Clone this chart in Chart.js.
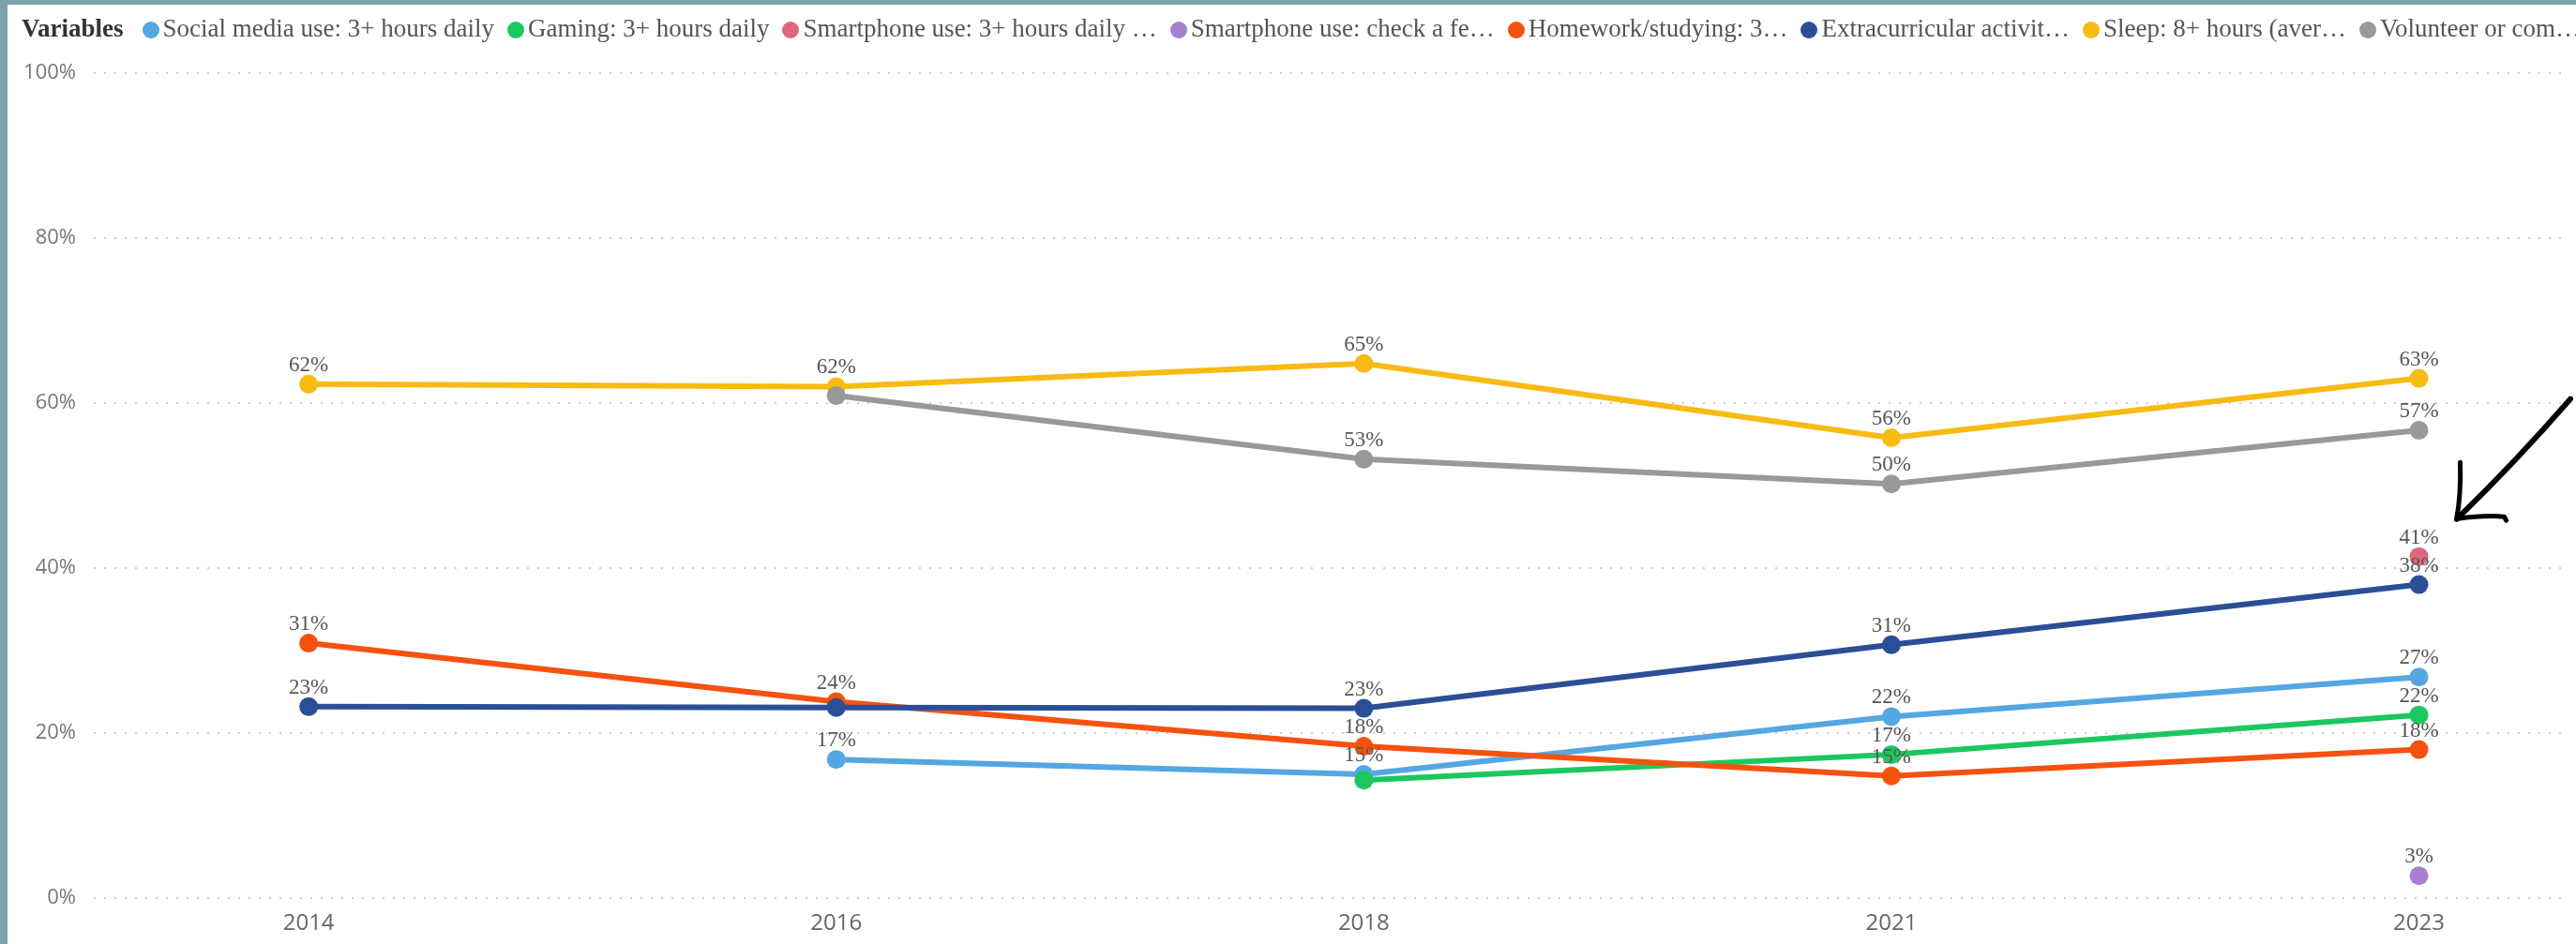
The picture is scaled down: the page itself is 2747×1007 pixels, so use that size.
<!DOCTYPE html>
<html>
<head>
<meta charset="utf-8">
<title>Teen habits over time</title>
<script src="https://cdn.jsdelivr.net/npm/chart.js@4.4.1/dist/chart.umd.min.js"></script>
<style>
  html, body { margin: 0; padding: 0; }
  body { width: 2747px; height: 1007px; background: #7aa3ac; overflow: hidden; position: relative; }
  #panel { position: absolute; left: 8px; top: 5px; width: 2739px; height: 1002px; background: #fff; overflow: hidden; }
  #legend { position: absolute; left: 15px; top: 5px; height: 40px; line-height: 40px; white-space: nowrap;
            font-family: 'Liberation Serif', 'Times New Roman', serif; font-size: 27px; color: #555; z-index: 2; }
  #legend b { color: #333; margin-right: 20px; }
  #legend .item { margin-right: 14px; }
  #legend .dot { display: inline-block; width: 18px; height: 18px; border-radius: 50%; margin-right: 4px; vertical-align: -2px; }
  #wrap { position: absolute; left: 0; top: 0; width: 2739px; height: 1002px; }
</style>
</head>
<body>
<div id="panel">
  <div id="legend"></div>
  <div id="wrap"><canvas id="trendChart"></canvas></div>
</div>
<script>
const years = ['2014', '2016', '2018', '2021', '2023'];

const seriesNames = [
  'Social media use: 3+ hours daily',
  'Gaming: 3+ hours daily',
  'Smartphone use: 3+ hours daily \u2026',
  'Smartphone use: check a fe\u2026',
  'Homework/studying: 3\u2026',
  'Extracurricular activit\u2026',
  'Sleep: 8+ hours (aver\u2026',
  'Volunteer or com\u2026'
];

// percent of students, one value per survey year (null = not asked that year)
const socialMedia     = [null, 16.8, 15.0, 22.0, 26.8];
const gaming          = [null, null, 14.3, 17.4, 22.2];
const smartphoneHours = [null, null, null, null, 41.4];
const smartphoneCheck = [null, null, null, null, 2.7];
const homework        = [30.9, 23.8, 18.4, 14.8, 18.0];
const extracurricular = [23.2, 23.1, 23.0, 30.7, 38.0];
const sleep           = [62.3, 62.0, 64.8, 55.8, 63.0];
const volunteer       = [null, 60.9, 53.2, 50.2, 56.7];

const yTicks = [0, 20, 40, 60, 80, 100];

const seriesValues = [socialMedia, gaming, smartphoneHours, smartphoneCheck,
                      homework, extracurricular, sleep, volunteer];
const seriesColors = ['#55a7e2', '#1cc75f', '#e0677b', '#a97fd2',
                      '#f5520f', '#2b4f96', '#f7bb14', '#999999'];

const datasets = seriesValues.map((vals, i) => ({
  label: seriesNames[i],
  data: vals.map((v, j) => ({x: j, y: v})).filter(p => p.y !== null),
  borderColor: seriesColors[i],
  backgroundColor: seriesColors[i],
  pointBackgroundColor: seriesColors[i],
  pointBorderWidth: 0,
  pointRadius: 10,
  borderWidth: 6,
  tension: 0,
  order: seriesValues.length - i
}));

// value labels above points, skipping ones that would sit on top of a higher label
const pointLabels = {
  id: 'pointLabels',
  afterDatasetsDraw(chart) {
    const ctx = chart.ctx;
    const byYear = years.map(() => []);
    chart.data.datasets.forEach((ds, i) => {
      const meta = chart.getDatasetMeta(i);
      meta.data.forEach((pt, k) => {
        const raw = ds.data[k];
        byYear[raw.x].push({v: raw.y, x: pt.x, y: pt.y});
      });
    });
    ctx.save();
    ctx.font = '23px "Liberation Serif"';
    ctx.fillStyle = '#575757';
    ctx.textAlign = 'center';
    ctx.textBaseline = 'middle';
    byYear.forEach(list => {
      list.sort((a, b) => b.v - a.v);
      const placed = [];
      list.forEach(p => {
        const ty = p.y - 20;
        if (placed.some(q => Math.abs(q - ty) < 18)) return;
        placed.push(ty);
        ctx.fillText(Math.round(p.v) + '%', p.x, ty);
      });
    });
    ctx.restore();
  }
};

// hand drawn arrow pointing at the 2023 smartphone point
const arrow = {
  id: 'arrow',
  afterDraw(chart) {
    const {ctx, chartArea, scales: {x, y}} = chart;
    const tipX = x.getPixelForValue(4) + 41;
    const tipY = y.getPixelForValue(46);
    const tailX = chartArea.right + 4;
    const tailY = y.getPixelForValue(60.5);
    ctx.save();
    ctx.strokeStyle = '#000';
    ctx.lineCap = 'round';
    ctx.lineJoin = 'round';
    ctx.lineWidth = 6;
    ctx.beginPath();
    ctx.moveTo(tailX, tailY);
    ctx.quadraticCurveTo((tailX + tipX) / 2 + 3, (tailY + tipY) / 2 + 2, tipX, tipY);
    ctx.stroke();
    ctx.lineWidth = 5;
    ctx.beginPath();
    ctx.moveTo(tipX + 3, tipY - 60);
    ctx.quadraticCurveTo(tipX + 4, tipY - 25, tipX - 1, tipY + 1);
    ctx.stroke();
    ctx.beginPath();
    ctx.moveTo(tipX, tipY);
    ctx.quadraticCurveTo(tipX + 30, tipY - 4, tipX + 50, tipY - 2);
    ctx.lineTo(tipX + 52, tipY + 2);
    ctx.stroke();
    ctx.restore();
  }
};

const chart = new Chart(document.getElementById('trendChart').getContext('2d'), {
  type: 'line',
  data: {datasets: datasets},
  options: {
    responsive: true,
    maintainAspectRatio: false,
    animation: false,
    events: [],
    layout: {padding: {top: 73, left: 0, right: 0, bottom: 0}},
    plugins: {
      legend: {display: false},
      tooltip: {enabled: false}
    },
    scales: {
      x: {
        type: 'linear',
        min: -0.4073,
        max: 4.2799,
        afterBuildTicks(scale) {
          scale.ticks = years.map((_, i) => ({value: i}));
        },
        afterFit(scale) { scale.height = 49; },
        ticks: {
          callback: v => years[v],
          autoSkip: false,
          maxRotation: 0,
          padding: 13,
          color: '#666',
          font: {family: 'Open Sans', size: 24}
        },
        grid: {display: false, drawTicks: false},
        border: {display: false}
      },
      y: {
        min: 0,
        max: 100,
        afterBuildTicks(scale) {
          scale.ticks = yTicks.map(v => ({value: v}));
        },
        afterFit(scale) { scale.width = 92; },
        ticks: {
          callback: v => v + '%',
          padding: 19,
          color: '#777',
          font: {family: 'Open Sans', size: 22}
        },
        grid: {color: '#cfcfcf', lineWidth: 2, drawTicks: false},
        border: {display: false, dash: [2, 9]}
      }
    }
  },
  plugins: [pointLabels, arrow]
});

// legend row built from the chart's datasets
const legend = document.getElementById('legend');
let html = '<b>Variables</b>';
chart.data.datasets.forEach(ds => {
  html += '<span class="item"><span class="dot" style="background:' + ds.borderColor + '"></span>' + ds.label + '</span>';
});
legend.innerHTML = html;
</script>
</body>
</html>
